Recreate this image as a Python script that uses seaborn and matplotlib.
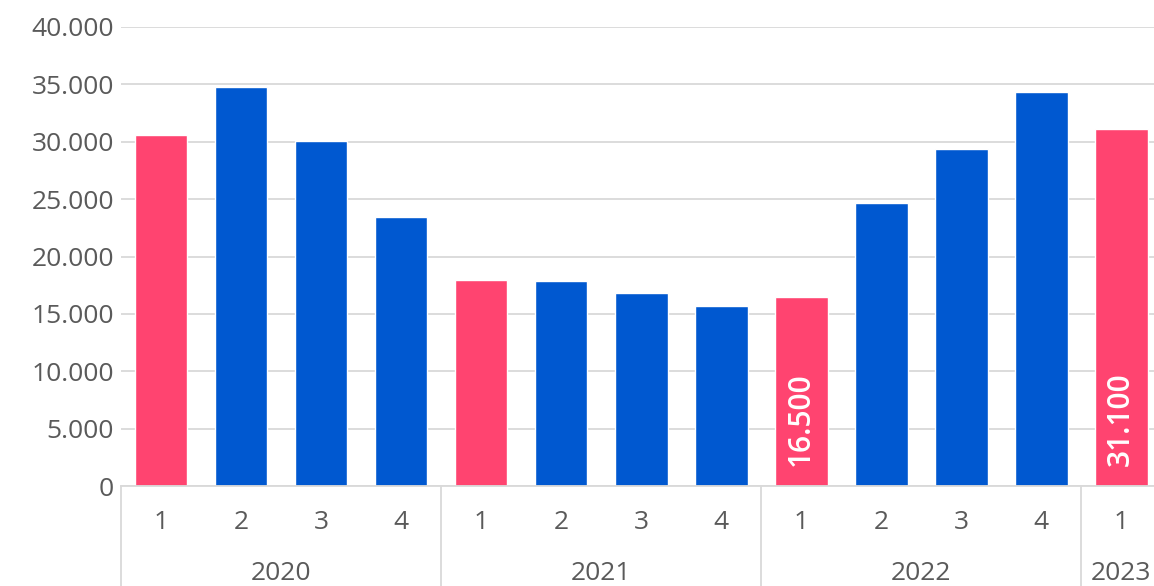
"""Quarterly bar chart, 2020-2023, Q1 highlighted."""

import matplotlib

matplotlib.use("Agg")
import matplotlib.pyplot as plt
import matplotlib.transforms as mtransforms
import pandas as pd
import seaborn as sns
from matplotlib.ticker import FuncFormatter

years = ["2020", "2020", "2020", "2020",
         "2021", "2021", "2021", "2021",
         "2022", "2022", "2022", "2022",
         "2023"]
quarters = ["1", "2", "3", "4", "1", "2", "3", "4", "1", "2", "3", "4", "1"]
values = [30600, 34800, 30100, 23400, 17950, 17850, 16850, 15650,
          16500, 24700, 29400, 34300, 31100]
labelled = {8: "16.500", 12: "31.100"}

PINK = "#FF4470"
BLUE = "#0058D0"
TEXT = "#5a5a5a"
GRID = "#d9d9d9"

df = pd.DataFrame({"year": years, "quarter": quarters, "value": values})
df["slot"] = [f"{y}-{q}" for y, q in zip(years, quarters)]
df["kind"] = ["q1" if q == "1" else "other" for q in quarters]

sns.set_theme(style="white")
plt.rcParams["font.family"] = ["Open Sans", "DejaVu Sans"]
FS = 19

fig = plt.figure(figsize=(11.54, 5.86), dpi=100)
ax = fig.add_axes([121 / 1154, 100 / 586, 1 - 121 / 1154, 459 / 586])

sns.barplot(data=df, x="slot", y="value", hue="kind",
            palette={"q1": PINK, "other": BLUE}, dodge=False,
            width=0.66, legend=False, ax=ax, saturation=1)

ax.set_ylim(0, 40000)
ax.set_xlim(-0.5, 12.41)
ax.set_yticks(range(0, 40001, 5000))
ax.yaxis.set_major_formatter(FuncFormatter(lambda v, _: f"{v:,.0f}".replace(",", ".")))
ax.yaxis.grid(True, color=GRID, linewidth=1.3)
ax.set_axisbelow(True)
ax.tick_params(axis="y", labelsize=FS, labelcolor=TEXT, length=0, pad=5)
ax.tick_params(axis="x", labelsize=FS, labelcolor=TEXT, length=0, pad=17)
ax.set_xticks(range(len(quarters)))
ax.set_xticklabels(quarters)
ax.set_xlabel("")
ax.set_ylabel("")
for side in ["top", "right", "left"]:
    ax.spines[side].set_visible(False)
ax.spines["bottom"].set_color(GRID)
ax.spines["bottom"].set_linewidth(1.3)

# value labels inside the highlighted bars
for i, text in labelled.items():
    ax.text(i, 1700, text, rotation=90, ha="center", va="bottom",
            color="white", fontsize=21.5, fontweight="semibold")

# year group separators and labels below the quarter ticks
trans = mtransforms.blended_transform_factory(ax.transData, ax.transAxes)
bounds = [-0.5, 3.5, 7.5, 11.5]
for b in bounds:
    ax.plot([b, b], [0, -0.25], color=GRID, linewidth=1.3,
            transform=trans, clip_on=False)
group_years = ["2020", "2021", "2022", "2023"]
for y in group_years:
    idx = [i for i, yy in enumerate(years) if yy == y]
    center = (idx[0] + idx[-1]) / 2
    ax.text(center, -0.19, y, transform=trans, ha="center", va="center",
            fontsize=FS, color=TEXT)

fig.savefig("out.png", dpi=100)
